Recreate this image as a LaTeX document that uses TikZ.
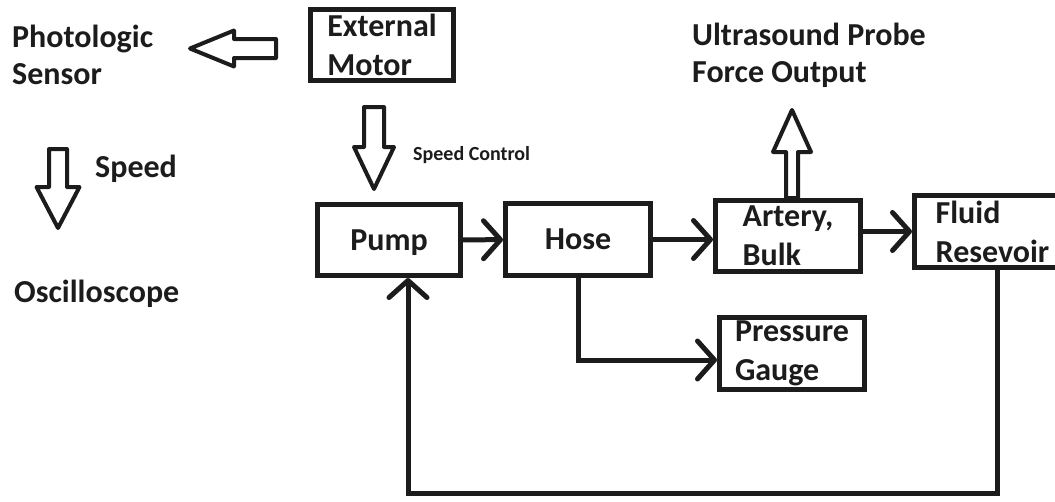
\documentclass[tikz,border=0pt]{standalone}
\usepackage{fontspec}
\setmainfont{Carlito}
\usepackage{tikz}
\usetikzlibrary{positioning,calc,arrows.meta}
\definecolor{Ink}{HTML}{1C1C1C}
\definecolor{Paper}{HTML}{FFFFFF}

% hollow block arrow: tail, tip, shaft half width, head half width, head length
\newcommand{\hollowarrow}[5]{%
  \coordinate (ha-base) at ($(#2)!#5!(#1)$);
  \draw [fatarrow] ($(#1)!#3!90:(#2)$) -- ($(ha-base)!#3!90:(#2)$) -- ($(ha-base)!#4!90:(#2)$)
    -- (#2) -- ($(ha-base)!#4!-90:(#2)$) -- ($(ha-base)!#3!-90:(#2)$) -- ($(#1)!#3!-90:(#2)$) -- cycle;}

\begin{document}
\begin{tikzpicture}[
    x=1pt, y=-1pt,
    box/.style={rectangle, draw=Ink, fill=Paper, line width=5pt, minimum width=145pt, minimum height=71pt, inner sep=0pt, align=left, font=\fontsize{32}{39}\selectfont\bfseries\color{Ink}},
    txt/.style={inner sep=0pt, align=left, font=\fontsize{32}{37}\selectfont\bfseries\color{Ink}},
    small/.style={inner sep=0pt, font=\fontsize{20}{24}\selectfont\bfseries\color{Ink}},
    flow/.style={-{Straight Barb[length=17pt, width=38pt, round]}, line width=5pt, draw=Ink},
    fatarrow/.style={draw=Ink, fill=Paper, line width=4pt, line join=round}
  ]
    \useasboundingbox [fill=Paper] (0,0) rectangle (1055,501);

    % Drive side
    \node (motor) [box, minimum width=143pt] at (382,45) {External\\Motor};
    \node (photo) [txt, anchor=north west] at (12,24.5) {Photologic\\Sensor};
    \node (speed) [txt, anchor=base west] at (95,177) {Speed};
    \node (scope) [txt, anchor=base west] at (14,302) {Oscilloscope};
    \node (ctrl) [small, anchor=base west] at (413,160) {Speed Control};

    % Fluid loop
    \node (pump) [box, minimum width=143pt, text depth=0pt] at (389,240) {Pump};
    \node (hose) [box, minimum height=72pt] at (578,239.5) {Hose};
    \node (artery) [box] at (788,236) {Artery,\\Bulk};
    \node (fluid) [box, minimum width=156pt, minimum height=72pt] at (992.5,231.5) {Fluid\\Resevoir};
    \node (gauge) [box, minimum height=72pt] at (792,353.5) {Pressure\\Gauge};
    \node (probe) [txt, anchor=north west] at (692,22.5) {Ultrasound Probe\\Force Output};

    % Block arrows
    \coordinate (sens-tail) at ([shift={(-32,3.5)}]motor.west);
    \coordinate (sens-tip) at ($(sens-tail)+(-86,0)$);
    \hollowarrow{sens-tail}{sens-tip}{9.5pt}{18pt}{44pt}
    \coordinate (ctrl-tip) at ([shift={(-15,-13)}]pump.north);
    \coordinate (ctrl-tail) at ($(ctrl-tip)+(0,-82)$);
    \hollowarrow{ctrl-tail}{ctrl-tip}{10pt}{20pt}{42pt}
    \coordinate (spd-tail) at (58,149);
    \coordinate (spd-tip) at ($(spd-tail)+(0,79)$);
    \hollowarrow{spd-tail}{spd-tip}{9pt}{21.5pt}{41pt}
    \coordinate (force-tail) at ([xshift=4pt]artery.north);
    \coordinate (force-tip) at ($(force-tail)+(0,-88)$);
    \hollowarrow{force-tail}{force-tip}{6pt}{19pt}{42pt}

    % Connections
    \coordinate (ret) at (408,493);
    \draw [flow] (pump) -- (hose);
    \draw [flow] (hose) -- (hose -| artery.west);
    \draw [flow] (artery.east |- fluid) -- (fluid.west);
    \draw [flow] (hose.south) |- ([yshift=-6.5pt]gauge.west);
    \draw [flow] ([xshift=4.5pt]fluid.south) |- (ret) -- (ret |- pump.south);
  \end{tikzpicture}
\end{document}
